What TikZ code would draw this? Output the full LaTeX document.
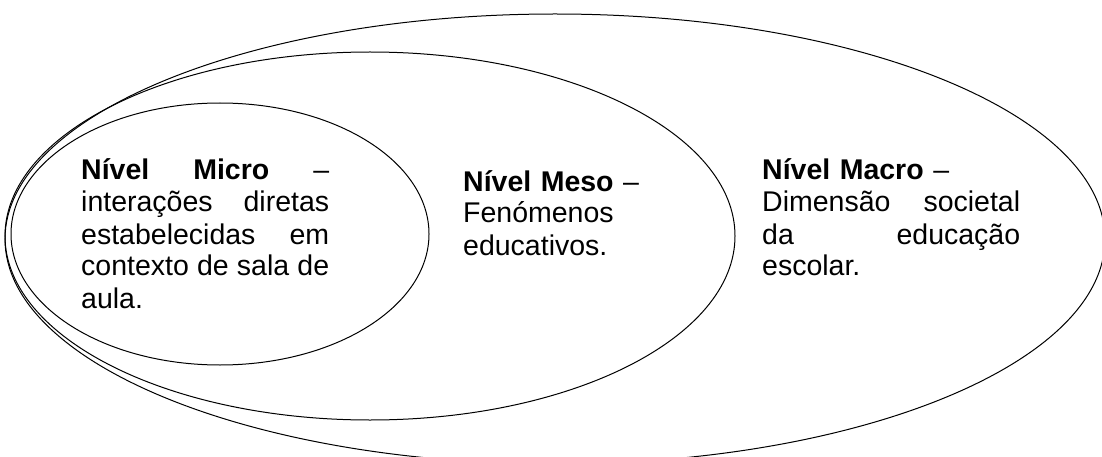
\documentclass[tikz,border=0pt]{standalone}
\usepackage{fontspec}
\setmainfont{Liberation Sans}
\begin{document}
\begin{tikzpicture}[x=1pt,y=-1pt,
  ring/.style={draw=black,line width=1pt},
  txt/.style={anchor=base west,inner sep=0pt,align=left,font=\fontsize{28.5}{32}\selectfont}]
\useasboundingbox (0,0) rectangle (1102,457);
\clip (0,0) rectangle (1102,457);
\draw[ring] (555,239) ellipse [x radius=550,y radius=225];
\draw[ring] (370,236) ellipse [x radius=365,y radius=184];
\draw[ring] (220,234) ellipse [x radius=209,y radius=131];
\node[txt,text width=248] (micro) at (81,180)
 {\textbf{Nível}\hfill\textbf{Micro}\hfill–\\
  interações\hfill diretas\\
  estabelecidas\hfill em\\
  contexto\hfill de\hfill sala\hfill de\\
  aula.};
\node[txt,text width=200] (meso) at (463,191)
 {\textbf{Nível Meso} –\\
  Fenómenos\\
  educativos.};
\node[txt,text width=258] (macro) at (762,180)
 {\textbf{Nível Macro} –\\
  Dimensão\hfill societal\\
  da\hfill educação\\
  escolar.};
\end{tikzpicture}
\end{document}
